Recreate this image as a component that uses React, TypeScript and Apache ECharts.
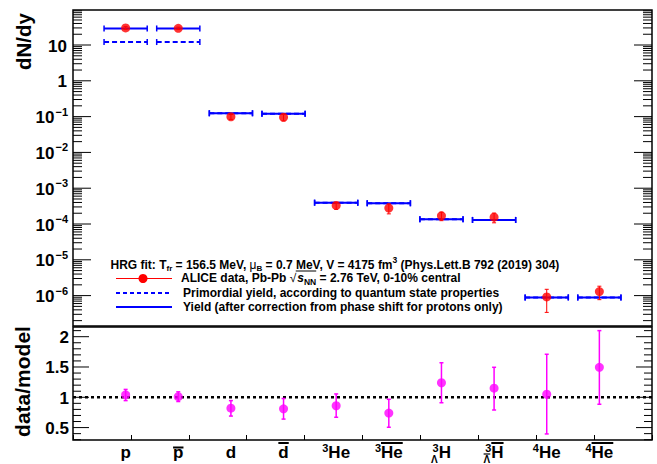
import React, { useEffect, useRef } from "react";
import * as echarts from "echarts";

// ---------------- data ----------------
const categories = ["p", "pbar", "d", "dbar", "3He", "3Hebar", "3LH", "3LHbar", "4He", "4Hebar"];
const yieldAfterCorrection = [29.0, 29.0, 0.124, 0.121, 3.94e-4, 3.8e-4, 1.35e-4, 1.3e-4, 8.9e-7, 8.8e-7];
const primordialYield = [12.1, 12.1, 0.124, 0.121, 3.94e-4, 3.8e-4, 1.35e-4, 1.3e-4, 8.9e-7, 8.8e-7];
const aliceYield = [30.0, 29.3, 0.099, 0.096, 3.3e-4, 2.78e-4, 1.69e-4, 1.55e-4, 9.2e-7, 1.3e-6];
const aliceErr = [2.6, 2.3, 0.0153, 0.02, 0.73e-4, 0.86e-4, 0.45e-4, 0.47e-4, 0.58e-6, 0.53e-6];
const ratio = [1.04, 1.01, 0.82, 0.81, 0.86, 0.74, 1.24, 1.15, 1.05, 1.495];
const ratioErrUp = [0.09, 0.08, 0.125, 0.17, 0.195, 0.227, 0.33, 0.345, 0.66, 0.605];
const ratioErrDown = [0.095, 0.08, 0.13, 0.17, 0.19, 0.235, 0.33, 0.36, 0.655, 0.61];
const yieldTickExponents = [-6, -5, -4, -3, -2, -1, 0, 1];
const ratioTicks = [0.5, 1, 1.5, 2];
const ratioTickLabels = ["0.5", "1", "1.5", "2"];

// ---------------- layout / style ----------------
const FONT = '"Liberation Sans", Arial, Helvetica, sans-serif';
const X_MIN = 0;
const X_MAX = 11;
const HALF_BIN = 0.41;
const LOG_MIN = -6.849;
const LOG_MAX = 1.978;
const R_MIN = 0.295;
const R_MAX = 2.16;
const BLUE = "#0000ff";
const RED = "#ff0000";
const MAGENTA = "#ff00ff";

let measureCtx: CanvasRenderingContext2D | null = null;
function textWidth(t: string, fs: number, weight = "bold", italic = false) {
  if (!measureCtx) measureCtx = document.createElement("canvas").getContext("2d");
  measureCtx!.font = `${italic ? "italic " : ""}${weight} ${fs}px ${FONT}`;
  return measureCtx!.measureText(t).width;
}

function txt(t: string, x: number, y: number, fs: number, opts: any = {}) {
  const align = opts.align || "left";
  return {
    type: "text",
    x,
    y,
    silent: true,
    style: {
      text: t,
      fontSize: fs,
      fontWeight: opts.weight || "bold",
      fontStyle: opts.italic ? "italic" : "normal",
      fontFamily: FONT,
      fill: "#000",
      align,
      verticalAlign: "middle",
      textAlign: align,
      textVerticalAlign: "middle",
    },
  };
}

function seg(x1: number, y1: number, x2: number, y2: number, stroke: string, lw: number, dash?: number[]) {
  return {
    type: "line",
    silent: true,
    shape: { x1, y1, x2, y2 },
    style: { stroke, lineWidth: lw, lineDash: dash || null },
  };
}

type Seg = { t: string; fs?: number; dy?: number; weight?: string; italic?: boolean; gap?: number };
function layoutSegs(segs: Seg[], x0: number, y: number, baseFs: number) {
  let x = x0;
  const els: any[] = [];
  const spans: number[][] = [];
  segs.forEach((s) => {
    const fs = s.fs ?? baseFs;
    const weight = s.weight ?? "bold";
    x += s.gap ?? 0;
    const w = textWidth(s.t, fs, weight, !!s.italic);
    els.push(txt(s.t, x, y + (s.dy ?? 0), fs, { weight, italic: s.italic }));
    spans.push([x, x + w]);
    x += w;
  });
  return { els, spans };
}

// x label formatting specs per category
const labelSpec: Record<string, any> = {
  p: { main: "p" },
  pbar: { main: "p", mainOv: -4.5 },
  d: { main: "d" },
  dbar: { main: "d", mainOv: -9 },
  "3He": { sup: "3", main: "He" },
  "3Hebar": { sup: "3", main: "He", mainOv: -9 },
  "3LH": { sup: "3", sub: "Λ", main: "H" },
  "3LHbar": { sup: "3", sub: "Λ", subOv: -5, main: "H", mainOv: -9 },
  "4He": { sup: "4", main: "He" },
  "4Hebar": { sup: "4", main: "He", mainOv: -9 },
};

function xLabelEls(name: string, cx: number, cy: number) {
  const s = labelSpec[name];
  const MF = 17;
  const SF = 11;
  const SUBF = 10;
  const wm = textWidth(s.main, MF);
  const wsup = s.sup ? textWidth(s.sup, SF) : 0;
  const wsub = s.sub ? textWidth(s.sub, SUBF) : 0;
  const pw = Math.max(wsup, wsub);
  const total = pw + wm;
  const x0 = cx - total / 2;
  const els: any[] = [];
  if (s.sup) els.push(txt(s.sup, x0 + pw - wsup, cy - 4.5, SF));
  if (s.sub) {
    const sx = x0 + pw - wsub - 1;
    const sy = cy + 7;
    els.push(txt(s.sub, sx, sy, SUBF));
    if (s.subOv !== undefined) els.push(seg(sx, sy + s.subOv, sx + wsub, sy + s.subOv, "#000", 1.2));
  }
  const mx = x0 + pw;
  els.push(txt(s.main, mx, cy, MF));
  if (s.mainOv !== undefined) els.push(seg(mx, cy + s.mainOv, mx + wm, cy + s.mainOv, "#000", 2));
  return els;
}

function hBarSeries(values: number[], dashed: boolean) {
  return {
    type: "custom",
    xAxisIndex: 0,
    yAxisIndex: 0,
    z: dashed ? 2 : 3,
    silent: true,
    data: values.map((v, i) => [i + 1, Math.log10(v)]),
    renderItem: (_p: any, api: any) => {
      const x = api.value(0);
      const y = api.value(1);
      const a = api.coord([x - HALF_BIN, y]);
      const b = api.coord([x + HALF_BIN, y]);
      return {
        type: "group",
        children: [
          seg(a[0], a[1], b[0], b[1], BLUE, 2, dashed ? [5, 3] : undefined),
          seg(a[0], a[1] - 3, a[0], a[1] + 3, BLUE, 1.5),
          seg(b[0], b[1] - 3, b[0], b[1] + 3, BLUE, 1.5),
        ],
      };
    },
  };
}

function errSeries(data: number[][], xi: number, yi: number, color: string, lw: number, cap: number) {
  return {
    type: "custom",
    xAxisIndex: xi,
    yAxisIndex: yi,
    z: 4,
    silent: true,
    data,
    renderItem: (_p: any, api: any) => {
      const x = api.value(0);
      const lo = api.coord([x, api.value(2)]);
      const hi = api.coord([x, api.value(3)]);
      return {
        type: "group",
        children: [
          seg(lo[0], lo[1], hi[0], hi[1], color, lw),
          seg(lo[0] - cap, lo[1], lo[0] + cap, lo[1], color, lw),
          seg(hi[0] - cap, hi[1], hi[0] + cap, hi[1], color, lw),
        ],
      };
    },
  };
}

function buildOption() {
  // upper tick data
  const upperTicks: number[][] = yieldTickExponents.map((e) => [0, e, 1, e]);
  for (let k = -7; k <= 1; k++) {
    for (let m = 2; m <= 9; m++) {
      const lv = Math.log10(m) + k;
      if (lv > LOG_MIN && lv < LOG_MAX) upperTicks.push([0, lv, 0, 0]);
    }
  }
  const lowerTicks: number[][] = ratioTicks.map((v, i) => [0, v, 1, i]);
  for (let t = 3; t <= 21; t++) {
    const v = t / 10;
    if (t % 5 !== 0 && v > R_MIN && v < R_MAX) lowerTicks.push([0, v, 0, 0]);
  }

  const upperTickSeries = {
    type: "custom",
    xAxisIndex: 0,
    yAxisIndex: 0,
    z: 10,
    silent: true,
    data: upperTicks,
    renderItem: (_p: any, api: any) => {
      const v = api.value(1);
      const major = api.value(2) === 1;
      const L = api.coord([X_MIN, v]);
      const R = api.coord([X_MAX, v]);
      const len = major ? 18 : 9;
      const ch: any[] = [seg(L[0], L[1], L[0] + len, L[1], "#000", 1), seg(R[0] - len, R[1], R[0], R[1], "#000", 1)];
      if (major) {
        const e = api.value(3);
        const right = L[0] - 6;
        if (e === 0) ch.push(txt("1", right, L[1] + 1, 17, { align: "right" }));
        else if (e === 1) ch.push(txt("10", right, L[1] + 1, 17, { align: "right" }));
        else {
          const supT = "−" + String(-e);
          const ws = textWidth(supT, 11);
          ch.push(txt(supT, right - ws + 1, L[1] - 5, 11));
          ch.push(txt("10", right - ws, L[1] + 1, 17, { align: "right" }));
        }
      }
      return { type: "group", children: ch };
    },
  };

  const lowerTickSeries = {
    type: "custom",
    xAxisIndex: 1,
    yAxisIndex: 1,
    z: 10,
    silent: true,
    data: lowerTicks,
    renderItem: (_p: any, api: any) => {
      const v = api.value(1);
      const major = api.value(2) === 1;
      const L = api.coord([X_MIN, v]);
      const R = api.coord([X_MAX, v]);
      const len = major ? 16 : 8;
      const ch: any[] = [seg(L[0], L[1], L[0] + len, L[1], "#000", 1), seg(R[0] - len, R[1], R[0], R[1], "#000", 1)];
      if (major) ch.push(txt(ratioTickLabels[api.value(3)], L[0] - 4, L[1] + 1, 17, { align: "right" }));
      return { type: "group", children: ch };
    },
  };

  const xLabelSeries = {
    type: "custom",
    xAxisIndex: 1,
    yAxisIndex: 1,
    z: 10,
    silent: true,
    data: categories.map((_c, i) => [i + 1, R_MIN, i]),
    renderItem: (_p: any, api: any) => {
      const p = api.coord([api.value(0), api.value(1)]);
      return { type: "group", children: xLabelEls(categories[api.value(2)], p[0], p[1] + 12) };
    },
  };

  // legend (positioned text block)
  const line1 = layoutSegs(
    [
      { t: "HRG fit: T" },
      { t: "fr", fs: 8, dy: 3 },
      { t: " = 156.5 MeV, " },
      { t: "μ", weight: "normal" },
      { t: "B", fs: 8, dy: 3 },
      { t: " = 0.7 MeV, V = 4175 fm" },
      { t: "3", fs: 8.5, dy: -5 },
      { t: " (Phys.Lett.B 792 (2019) 304)" },
    ],
    110.5,
    265,
    12
  );
  const line2 = layoutSegs(
    [
      { t: "ALICE data, Pb-Pb " },
      { t: "√", weight: "normal" },
      { t: "s", italic: true, gap: 1 },
      { t: "NN", fs: 8.5, dy: 3.5 },
      { t: " = 2.76 TeV, 0-10% central" },
    ],
    181,
    278,
    12
  );
  const ovY = 278 - 7;
  const line3 = layoutSegs([{ t: "Primordial yield, according to quantum state properties" }], 183, 292.8, 12);
  const line4 = layoutSegs([{ t: "Yield (after correction from phase shift for protons only)" }], 183, 307, 12);

  const graphic: any[] = [
    {
      type: "text",
      x: 23,
      y: 41.5,
      rotation: Math.PI / 2,
      silent: true,
      style: { text: "dN/dy", fontSize: 20.5, fontWeight: "bold", fontFamily: FONT, fill: "#000", align: "center", verticalAlign: "middle", textAlign: "center", textVerticalAlign: "middle" },
    },
    {
      type: "text",
      x: 22,
      y: 381.5,
      rotation: Math.PI / 2,
      silent: true,
      style: { text: "data/model", fontSize: 21, fontWeight: "bold", fontFamily: FONT, fill: "#000", align: "center", verticalAlign: "middle", textAlign: "center", textVerticalAlign: "middle" },
    },
    ...line1.els,
    ...line2.els,
    seg(line2.spans[1][1] - 0.5, ovY, line2.spans[3][1], ovY, "#000", 1),
    ...line3.els,
    ...line4.els,
    seg(116, 278.5, 172, 278.5, RED, 1),
    { type: "circle", silent: true, shape: { cx: 143, cy: 278.5, r: 4.5 }, style: { fill: RED } },
    seg(116, 293, 172, 293, BLUE, 2, [4, 3]),
    seg(116, 307, 172, 307, BLUE, 2),
  ];

  return {
    animation: false,
    backgroundColor: "#fff",
    graphic,
    grid: [
      { left: 73, right: 5, top: 10, height: 316, show: true, borderColor: "#000", borderWidth: 1.5, backgroundColor: "transparent", containLabel: false },
      { left: 73, right: 5, top: 327, height: 113, show: true, borderColor: "#000", borderWidth: 1.5, backgroundColor: "transparent", containLabel: false },
    ],
    xAxis: [
      { gridIndex: 0, type: "value", min: X_MIN, max: X_MAX, show: false },
      {
        gridIndex: 1,
        type: "value",
        min: X_MIN,
        max: X_MAX,
        interval: 1.1,
        axisLine: { show: false },
        axisTick: { show: true, inside: true, length: 5, lineStyle: { color: "#000", width: 1 } },
        axisLabel: { show: false },
        splitLine: { show: false },
      },
    ],
    yAxis: [
      { gridIndex: 0, type: "value", min: LOG_MIN, max: LOG_MAX, show: false },
      { gridIndex: 1, type: "value", min: R_MIN, max: R_MAX, show: false },
    ],
    series: [
      hBarSeries(primordialYield, true),
      hBarSeries(yieldAfterCorrection, false),
      errSeries(
        aliceYield.map((v, i) => [i + 1, Math.log10(v), Math.log10(Math.max(v - aliceErr[i], 1e-12)), Math.log10(v + aliceErr[i])]),
        0,
        0,
        RED,
        1,
        2
      ),
      {
        type: "scatter",
        xAxisIndex: 0,
        yAxisIndex: 0,
        z: 5,
        silent: true,
        symbol: "circle",
        symbolSize: 9,
        itemStyle: { color: RED },
        data: aliceYield.map((v, i) => [i + 1, Math.log10(v)]),
      },
      {
        type: "line",
        xAxisIndex: 1,
        yAxisIndex: 1,
        z: 3,
        silent: true,
        symbol: "none",
        lineStyle: { color: "#000", width: 2.5, type: [3, 3] },
        data: [
          [X_MIN, 1],
          [X_MAX, 1],
        ],
      },
      errSeries(
        ratio.map((v, i) => [i + 1, v, v - ratioErrDown[i], v + ratioErrUp[i]]),
        1,
        1,
        MAGENTA,
        1.5,
        2
      ),
      {
        type: "scatter",
        xAxisIndex: 1,
        yAxisIndex: 1,
        z: 5,
        silent: true,
        symbol: "circle",
        symbolSize: 9,
        itemStyle: { color: MAGENTA },
        data: ratio.map((v, i) => [i + 1, v]),
      },
      upperTickSeries,
      lowerTickSeries,
      xLabelSeries,
    ],
  };
}

export default function App() {
  const ref = useRef<HTMLDivElement>(null);
  useEffect(() => {
    if (!ref.current) return;
    const chart = echarts.init(ref.current, undefined, { renderer: "svg" });
    chart.setOption(buildOption() as any);
    return () => chart.dispose();
  }, []);
  return <div ref={ref} style={{ position: "fixed", left: 0, top: 0, width: 657, height: 464, background: "#fff" }} />;
}
